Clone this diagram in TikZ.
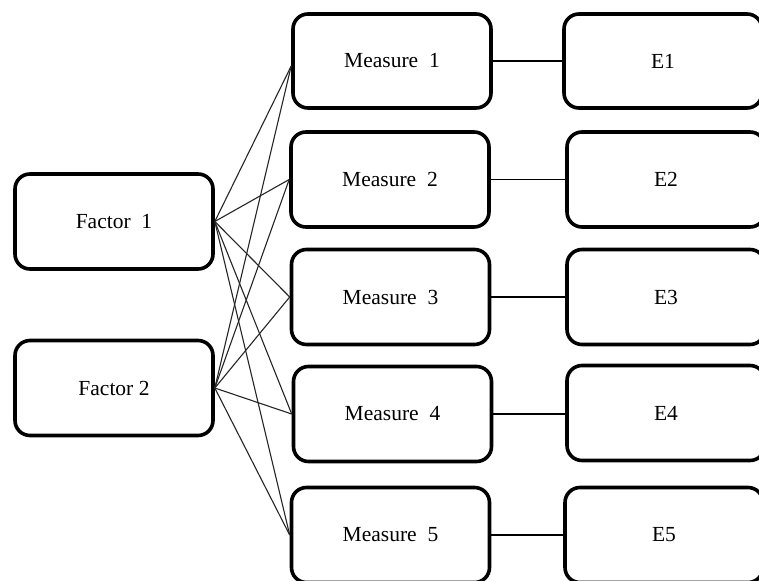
\documentclass[tikz,border=0pt]{standalone}
\usepackage{fontspec}
\setmainfont{Liberation Serif}
\begin{document}
\begin{tikzpicture}[x=1pt,y=-1pt,
  box/.style={draw=black, line width=3.6pt, rounded corners=15pt,
    minimum width=198pt, minimum height=95pt, inner sep=0pt,
    font=\fontsize{21.5}{25}\selectfont},
  link/.style={draw=black!85, line width=1.1pt},
  tie/.style={draw=black, line width=1.2pt}]
\clip (0,0) rectangle (759,580);
\fill[white] (0,0) rectangle (759,580);

% latent factors
\node[box] (f1) at (114,221.5) {Factor\ \ 1};
\node[box] (f2) at (114,388) {Factor 2};

% observed measures
\node[box, minimum height=94pt] (m1) at (392,61) {Measure\ \ 1};
\node[box] (m2) at (390,179.5) {Measure\ \ 2};
\node[box] (m3) at (390.5,297) {Measure\ \ 3};
\node[box] (m4) at (392.5,414) {Measure\ \ 4};
\node[box] (m5) at (390.5,535) {Measure\ \ 5};

% error terms
\node[box, minimum height=94pt] (e1) at (663,61) {E1};
\node[box] (e2) at (666,179.5) {E2};
\node[box] (e3) at (666,297) {E3};
\node[box] (e4) at (666,413) {E4};
\node[box] (e5) at (664,535) {E5};

% loadings of both factors on every measure
\foreach \f in {f1,f2}{
  \draw[link] (\f.east) -- ([yshift=-5pt]m1.west);
  \foreach \m in {m2,m3,m4,m5}{
    \draw[link] (\f.east) -- (\m.west);
  }
}

% measure-error links
\foreach \i in {1,...,5}{
  \draw[tie] (m\i.east) -- (e\i.west |- m\i.east);
}
\end{tikzpicture}
\end{document}
